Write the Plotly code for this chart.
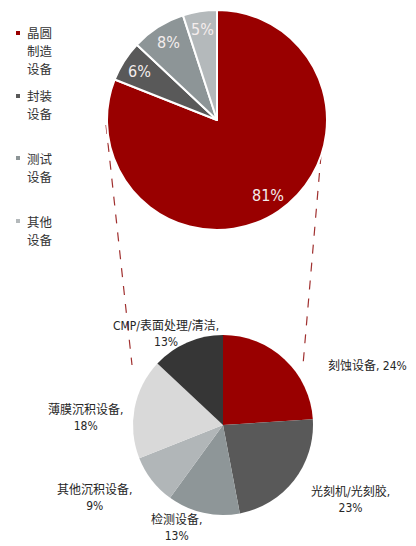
import math
import plotly.graph_objects as go

# ---------------- data ----------------
top_labels = ["晶圆制造设备", "封装设备", "测试设备", "其他设备"]
top_values = [81, 6, 8, 5]
top_colors = ["#990000", "#595959", "#8D9597", "#B4B9BB"]

bottom_labels = ["刻蚀设备", "光刻机/光刻胶", "检测设备", "其他沉积设备", "薄膜沉积设备", "CMP/表面处理/清洁"]
bottom_values = [24, 23, 13, 9, 18, 13]
bottom_colors = ["#990000", "#595959", "#8E9698", "#B1B6B8", "#D9D9D9", "#363636"]

# ---------------- layout geometry (page pixels; page has an 8px body margin) ----------------
OFF = 8
W, H = 416 - OFF, 546 - OFF
def px(x):
    return (x - OFF) / W
def py(y):
    return 1 - (y - OFF) / H

top_box = (107, 327, 10, 230)      # x0, x1, ytop, ybottom
bot_box = (133, 313, 335, 515)

CJK = "Noto Sans CJK SC"
NARROW = "Liberation Sans Narrow, Arial Narrow, DejaVu Sans Condensed, " + CJK

fig = go.Figure()

fig.add_trace(go.Pie(
    labels=top_labels, values=top_values, sort=False, direction="clockwise", rotation=0,
    marker=dict(colors=top_colors, line=dict(color="white", width=2)),
    textinfo="none", hoverinfo="label+percent",
    domain=dict(x=[px(top_box[0]), px(top_box[1])], y=[py(top_box[3]), py(top_box[2])]),
))

fig.add_trace(go.Pie(
    labels=bottom_labels, values=bottom_values, sort=False, direction="clockwise", rotation=0,
    marker=dict(colors=bottom_colors, line=dict(color="white", width=0)),
    textinfo="none", hoverinfo="label+percent",
    domain=dict(x=[px(bot_box[0]), px(bot_box[1])], y=[py(bot_box[3]), py(bot_box[2])]),
))

annotations = []

# percentages inside the top pie, placed along each slice's mid-angle
cx = (top_box[0] + top_box[1]) / 2
cy = (top_box[2] + top_box[3]) / 2
r = (top_box[1] - top_box[0]) / 2
total = sum(top_values)
cum = 0
for v in top_values:
    mid = (cum + v / 2) / total * 2 * math.pi
    cum += v
    tx = cx + 0.83 * r * math.sin(mid)
    ty = cy - 0.83 * r * math.cos(mid)
    annotations.append(dict(
        x=px(tx), y=py(ty), xref="paper", yref="paper", showarrow=False,
        text=f"{v}%", font=dict(family=NARROW, size=16, color="#F4EDED"),
        xanchor="center", yanchor="middle",
    ))

# legend on the left (text lines + small square markers)
legend_first_line = [33, 96, 158, 221]
LINE = 18
shapes = []
for lab, col, y1 in zip(top_labels, top_colors, legend_first_line):
    lines = [lab[i:i + 2] for i in range(0, len(lab), 2)]
    for k, ln in enumerate(lines):
        annotations.append(dict(
            x=px(25), y=py(y1 + k * LINE), xref="paper", yref="paper", showarrow=False,
            text=ln, align="left",
            font=dict(family=CJK, size=12.5, color="#333333"),
            xanchor="left", yanchor="middle",
        ))
    shapes.append(dict(type="rect", xref="paper", yref="paper",
                       x0=px(16), x1=px(20), y0=py(y1 + 2), y1=py(y1 - 2),
                       fillcolor=col, line=dict(width=0)))

# outer labels for the bottom pie
label_pos = {
    "刻蚀设备": (367, 366),
    "光刻机/光刻胶": (350, 499),
    "检测设备": (176, 527),
    "其他沉积设备": (94, 498),
    "薄膜沉积设备": (85, 417),
    "CMP/表面处理/清洁": (166, 334),
}
for lab, v in zip(bottom_labels, bottom_values):
    x, y = label_pos[lab]
    if lab == "刻蚀设备":
        txt = f"{lab}, {v}%"
    else:
        txt = f"{lab},<br>{v}%"
    annotations.append(dict(
        x=px(x), y=py(y), xref="paper", yref="paper", showarrow=False,
        text=txt, align="center",
        font=dict(family=NARROW, size=12, color="#262626"),
        xanchor="center", yanchor="middle",
    ))

# dashed connector lines
for (x0, y0, x1, y1) in [(106, 125, 132, 365), (321, 155, 303, 365)]:
    shapes.append(dict(type="line", xref="paper", yref="paper",
                       x0=px(x0), y0=py(y0), x1=px(x1), y1=py(y1),
                       line=dict(color="#A0302F", width=1.2, dash="dash"), layer="below"))

fig.update_layout(
    width=W, height=H, margin=dict(l=0, r=0, t=0, b=0),
    paper_bgcolor="white", plot_bgcolor="white", showlegend=False,
    annotations=annotations, shapes=shapes,
)

fig.write_html("out.html")
